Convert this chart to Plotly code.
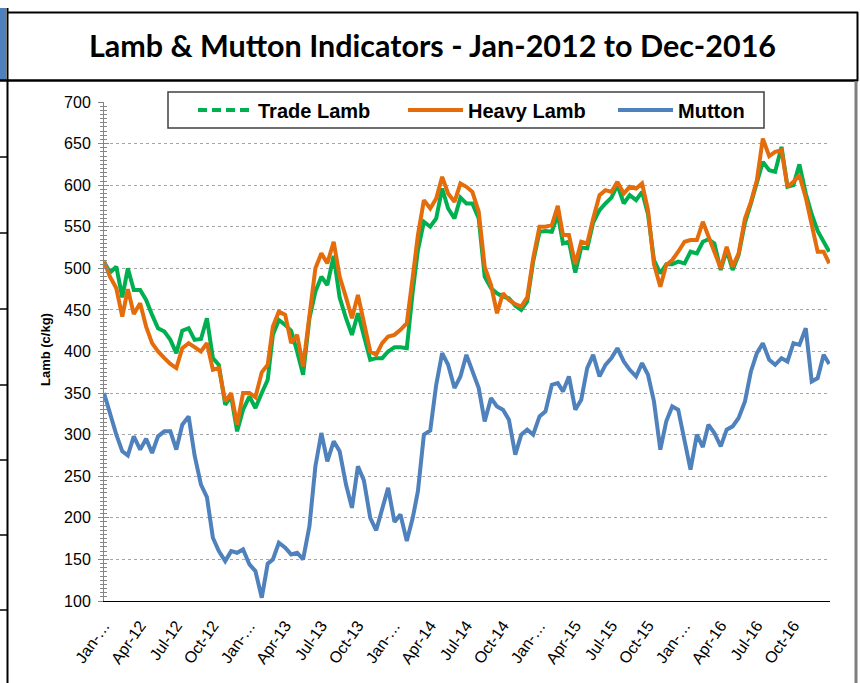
import plotly.graph_objects as go

# semi-monthly sampling dates (1st and 16th of each month), Jan-2012 .. Dec-2016
dates = [f"{2012 + m // 12}-{m % 12 + 1:02d}-{d:02d}" for m in range(60) for d in (1, 16)] + ["2016-12-30"]

trade_lamb = [
    508, 495, 502, 465, 500, 474, 474, 462, 444, 428, 424, 414, 398, 425, 428, 414, 415, 440, 392, 384,
    336, 346, 304, 330, 346, 332, 350, 366, 420, 438, 432, 425, 400, 372, 440, 472, 490, 480, 515, 465,
    440, 420, 446, 420, 390, 392, 392, 400, 405, 405, 404, 472, 522, 556, 550, 560, 596, 572, 560, 585,
    578, 578, 560, 490, 476, 470, 466, 464, 455, 450, 460, 508, 544, 545, 544, 565, 530, 532, 495, 525,
    524, 555, 570, 578, 585, 600, 578, 588, 582, 592, 565, 510, 494, 505, 505, 508, 506, 520, 518, 532,
    535, 530, 498, 522, 498, 516, 555, 578, 604, 628, 618, 616, 646, 598, 600, 625, 590, 565, 545, 532,
    520,
]
heavy_lamb = [
    508, 490, 476, 442, 475, 445, 458, 430, 410, 400, 392, 385, 380, 404, 410, 405, 400, 410, 378, 380,
    340, 350, 312, 350, 350, 345, 375, 384, 430, 448, 444, 410, 420, 382, 440, 500, 518, 506, 532, 490,
    465, 440, 468, 436, 400, 396, 410, 418, 420, 426, 434, 490, 540, 582, 572, 584, 610, 590, 580, 602,
    598, 592, 568, 502, 480, 446, 470, 462, 457, 454, 465, 512, 550, 550, 552, 575, 540, 540, 505, 532,
    530, 560, 588, 594, 592, 604, 590, 598, 596, 602, 570, 505, 478, 504, 510, 520, 532, 534, 534, 556,
    540, 520, 500, 526, 502, 518, 560, 580, 606, 656, 635, 640, 642, 598, 604, 612, 585, 550, 520, 520,
    506,
]
mutton = [
    350, 325, 300, 280, 275, 298, 282, 295, 278, 298, 304, 304, 282, 312, 322, 275, 240, 225, 176, 160,
    148, 160, 158, 162, 144, 136, 104, 145, 150, 170, 164, 156, 158, 150, 190, 262, 302, 268, 292, 280,
    240, 212, 262, 245, 200, 185, 212, 236, 195, 204, 172, 200, 232, 300, 305, 360, 398, 384, 356, 370,
    396, 378, 356, 316, 344, 334, 330, 318, 276, 300, 306, 300, 322, 328, 360, 362, 352, 370, 330, 342,
    380, 396, 370, 384, 392, 404, 388, 378, 370, 386, 372, 340, 282, 316, 334, 330, 292, 258, 300, 285,
    312, 302, 286, 306, 310, 320, 340, 376, 398, 410, 390, 384, 392, 388, 410, 408, 428, 364, 368, 396,
    385,
]

tick_dates = [f"{y}-{m:02d}-01" for y in range(2012, 2017) for m in (1, 4, 7, 10)]
tick_labels = [
    "Jan-…", "Apr-12", "Jul-12", "Oct-12",
    "Jan-…", "Apr-13", "Jul-13", "Oct-13",
    "Jan-…", "Apr-14", "Jul-14", "Oct-14",
    "Jan-…", "Apr-15", "Jul-15", "Oct-15",
    "Jan-…", "Apr-16", "Jul-16", "Oct-16",
]
y_ticks = list(range(100, 701, 50))

GREEN = "#00B050"
ORANGE = "#E46C0A"
BLUE = "#4F81BD"
FONT = "Arial, Liberation Sans, sans-serif"

W, H = 860, 683
L, R, T, B = 104, 830, 102, 601


def px(x):
    return (x - L) / (R - L)


def py(y):
    return (B - y) / (B - T)


fig = go.Figure()

# legend-only entry for Trade Lamb (dashed key as in the original)
fig.add_trace(go.Scatter(x=[dates[0]], y=[None], mode="lines", name="Trade Lamb",
                         line=dict(color=GREEN, width=4, dash="9px,5px"), yaxis="y2",
                         hoverinfo="skip"))
fig.add_trace(go.Scatter(x=dates, y=trade_lamb, mode="lines", name="Trade Lamb",
                         line=dict(color=GREEN, width=4), showlegend=False))
fig.add_trace(go.Scatter(x=dates, y=heavy_lamb, mode="lines", name="Heavy Lamb",
                         line=dict(color=ORANGE, width=4)))
fig.add_trace(go.Scatter(x=dates, y=mutton, mode="lines", name="Mutton",
                         line=dict(color=BLUE, width=4)))

shapes = []
# left blue bar and frame lines of the surrounding sheet
shapes.append(dict(type="rect", xref="paper", yref="paper", x0=px(0), x1=px(6), y0=py(8), y1=py(80),
                   fillcolor=BLUE, line=dict(width=0), layer="above"))
shapes.append(dict(type="line", xref="paper", yref="paper", x0=px(7.5), x1=px(7.5), y0=py(8), y1=py(683),
                   line=dict(color="black", width=2), layer="above"))
shapes.append(dict(type="line", xref="paper", yref="paper", x0=px(7), x1=px(858), y0=py(12.5), y1=py(12.5),
                   line=dict(color="black", width=2), layer="above"))
shapes.append(dict(type="line", xref="paper", yref="paper", x0=px(857.5), x1=px(857.5), y0=py(12), y1=py(81),
                   line=dict(color="black", width=2), layer="above"))
shapes.append(dict(type="line", xref="paper", yref="paper", x0=px(0), x1=px(858), y0=py(80.5), y1=py(80.5),
                   line=dict(color="black", width=2.5), layer="above"))
shapes.append(dict(type="line", xref="paper", yref="paper", x0=px(856), x1=px(856), y0=py(81), y1=py(683),
                   line=dict(color="#7F7F7F", width=3), layer="above"))
for yy in (157, 233, 309, 385, 460, 535, 610):
    shapes.append(dict(type="line", xref="paper", yref="paper", x0=px(0), x1=px(7), y0=py(yy), y1=py(yy),
                       line=dict(color="black", width=1.5), layer="above"))
# legend frame
shapes.append(dict(type="rect", xref="paper", yref="paper", x0=px(168), x1=px(764), y0=py(92), y1=py(128),
                   fillcolor="white", line=dict(color="#404040", width=1.5), layer="above"))

fig.update_layout(
    width=W, height=H,
    margin=dict(l=L, r=W - R, t=T, b=H - B, autoexpand=False),
    paper_bgcolor="white", plot_bgcolor="white",
    font=dict(family=FONT, color="black"),
    title=dict(text="Lamb & Mutton Indicators - Jan-2012 to Dec-2016",
               font=dict(family="Lato, sans-serif", size=30.5, color="black", weight="bold"),
               x=432.5 / W, xref="container", xanchor="center",
               y=1 - 46 / H, yref="container", yanchor="middle"),
    showlegend=True,
    legend=dict(orientation="h", xref="container", yref="container",
                x=193 / W, xanchor="left", y=1 - 110 / H, yanchor="middle",
                bgcolor="rgba(0,0,0,0)", borderwidth=0,
                font=dict(family=FONT, size=20, color="black", weight="bold"),
                entrywidth=140, entrywidthmode="pixels", itemwidth=55,
                traceorder="normal"),
    xaxis=dict(type="date", range=["2012-01-01", "2017-01-01"],
               tickmode="array", tickvals=tick_dates, ticktext=tick_labels, tickangle=-55,
               tickfont=dict(family=FONT, size=16, color="black"),
               ticklabelstandoff=8,
               showgrid=False, zeroline=False, showline=True, linecolor="black", linewidth=1,
               ticks=""),
    yaxis=dict(range=[100, 700], tickmode="array", tickvals=y_ticks,
               tickfont=dict(family=FONT, size=16, color="black"),
               showgrid=True, gridcolor="#A6A6A6", griddash="dot", gridwidth=1,
               zeroline=False, showline=True, linecolor="#868686", linewidth=1,
               ticks="outside", ticklen=5, tickcolor="#868686", tickwidth=1,
               ticklabelstandoff=4,
               minor=dict(dtick=5, ticks="outside", ticklen=3, tickcolor="#868686", showgrid=False)),
    yaxis2=dict(range=[100, 700], overlaying="y", side="left", anchor="x",
                tickmode="array", tickvals=y_ticks, showticklabels=False,
                showgrid=False, zeroline=False, showline=False,
                ticks="inside", ticklen=5, tickcolor="#868686", tickwidth=1,
                minor=dict(dtick=5, ticks="inside", ticklen=3, tickcolor="#868686", showgrid=False)),
    shapes=shapes,
    annotations=[dict(text="<b>Lamb (c/kg)</b>", xref="paper", yref="paper",
                      x=px(45), y=py(350), textangle=-90, showarrow=False,
                      font=dict(family=FONT, size=13, color="black"),
                      xanchor="center", yanchor="middle")],
)

fig.write_html("out.html", config={"displayModeBar": False},
               post_script="document.body.style.margin='0';document.body.style.overflow='hidden';")
